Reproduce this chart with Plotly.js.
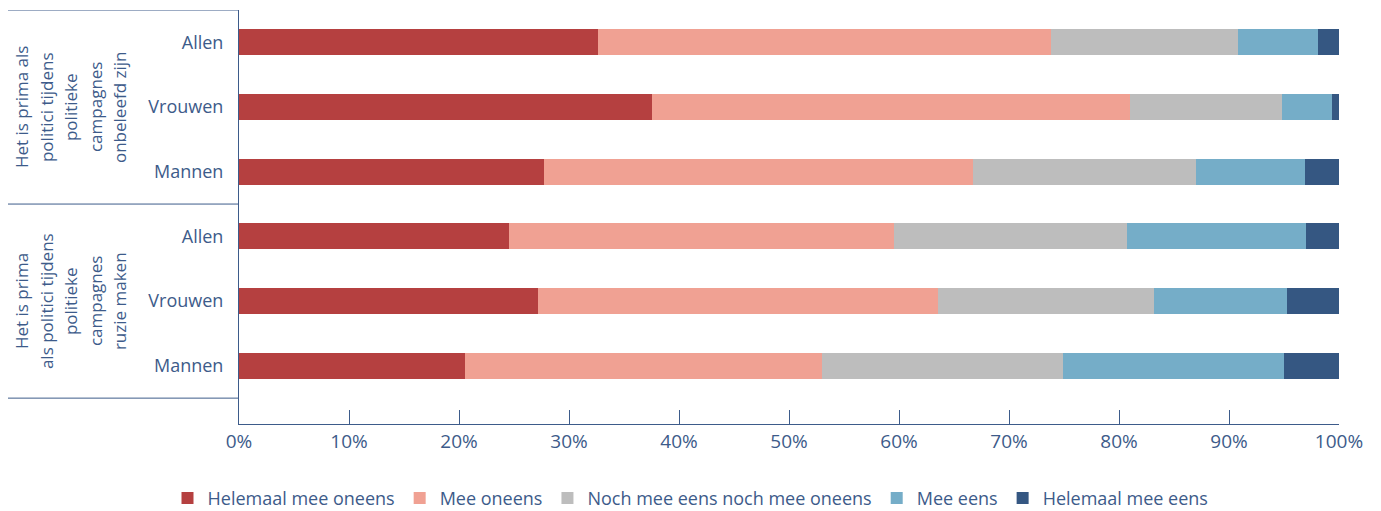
<!DOCTYPE html>
<html>
<head>
<meta charset="utf-8">
<script src="https://cdn.plot.ly/plotly-3.0.1.min.js"></script>
<style>html,body{margin:0;padding:0;background:#fff;}#chart{width:1381px;height:511px;}</style>
</head>
<body>
<div id="chart"></div>
<script>
const groupLines = [
  ["Het is prima als", "politici tijdens", "politieke", "campagnes", "onbeleefd zijn"],
  ["Het is prima", "als politici tijdens", "politieke", "campagnes", "ruzie maken"]
];
const rowLabels = ["Allen", "Vrouwen", "Mannen", "Allen", "Vrouwen", "Mannen"];
const seriesNames = ["Helemaal mee oneens", "Mee oneens", "Noch mee eens noch mee oneens", "Mee eens", "Helemaal mee eens"];
const helemaalMeeOneens = [32.6, 37.5, 27.7, 24.5, 27.2, 20.5];
const meeOneens        = [41.2, 43.5, 39.0, 35.0, 36.3, 32.5];
const noch             = [17.0, 13.8, 20.3, 21.2, 19.7, 21.9];
const meeEens          = [7.3, 4.6, 9.9, 16.3, 12.1, 20.1];
const helemaalMeeEens  = [1.9, 0.6, 3.1, 3.0, 4.7, 5.0];
const colors = ["#b54040", "#f0a193", "#bdbdbd", "#75adc8", "#355782"];
const xTicks = [0,10,20,30,40,50,60,70,80,90,100];

const txt = "#3d5b8a";
const font = "'Open Sans', sans-serif";
const yPos = rowLabels.map((_, i) => i);
const values = [helemaalMeeOneens, meeOneens, noch, meeEens, helemaalMeeEens];

const traces = values.map((v, k) => ({
  type: "bar", orientation: "h", name: seriesNames[k],
  x: v, y: yPos, marker: {color: colors[k], line: {width: 0}},
  hoverinfo: "x+name"
}));

const marginL = 239, plotW = 1100;
const shapes = [-0.5, 2.5, 5.5].map(yy => ({
  type: "line", xref: "paper", yref: "y", x0: (8 - marginL) / plotW, x1: 0, y0: yy, y1: yy,
  line: {color: txt, width: 1}
}));

const colPx = [21, 46, 70, 95, 119];
const annotations = [];
groupLines.forEach((lines, g) => {
  lines.forEach((line, j) => {
    annotations.push({
      xref: "paper", yref: "y", x: (colPx[j] - marginL) / plotW, y: g * 3 + 1,
      xanchor: "center", yanchor: "middle",
      text: line, showarrow: false, textangle: -90,
      font: {family: font, size: 17, color: txt}
    });
  });
});

const layout = {
  width: 1381, height: 511,
  margin: {l: marginL, r: 42, t: 10, b: 87},
  paper_bgcolor: "#fff", plot_bgcolor: "#fff",
  barmode: "stack", bargap: 0.6,
  showlegend: true,
  legend: {orientation: "h", xref: "container", yref: "container", x: 0.5, xanchor: "center",
           y: 0.025, yanchor: "middle", font: {family: font, size: 18, color: txt}, traceorder: "normal"},
  xaxis: {range: [0, 100], tickvals: xTicks, ticktext: xTicks.map(t => t + "%"),
          showgrid: false, zeroline: false, showline: true, linecolor: txt, linewidth: 1,
          ticks: "inside", ticklen: 14, tickcolor: txt, tickwidth: 1,
          tickfont: {family: font, size: 19, color: txt}, fixedrange: true},
  yaxis: {range: [5.9, -0.5], tickvals: yPos, ticktext: rowLabels,
          showgrid: false, zeroline: false, showline: true, linecolor: txt, linewidth: 1,
          ticks: "", ticklabelstandoff: 11,
          tickfont: {family: font, size: 18, color: txt}, fixedrange: true},
  shapes: shapes,
  annotations: annotations
};

Plotly.newPlot("chart", traces, layout, {displayModeBar: false, staticPlot: true});
</script>
</body>
</html>
